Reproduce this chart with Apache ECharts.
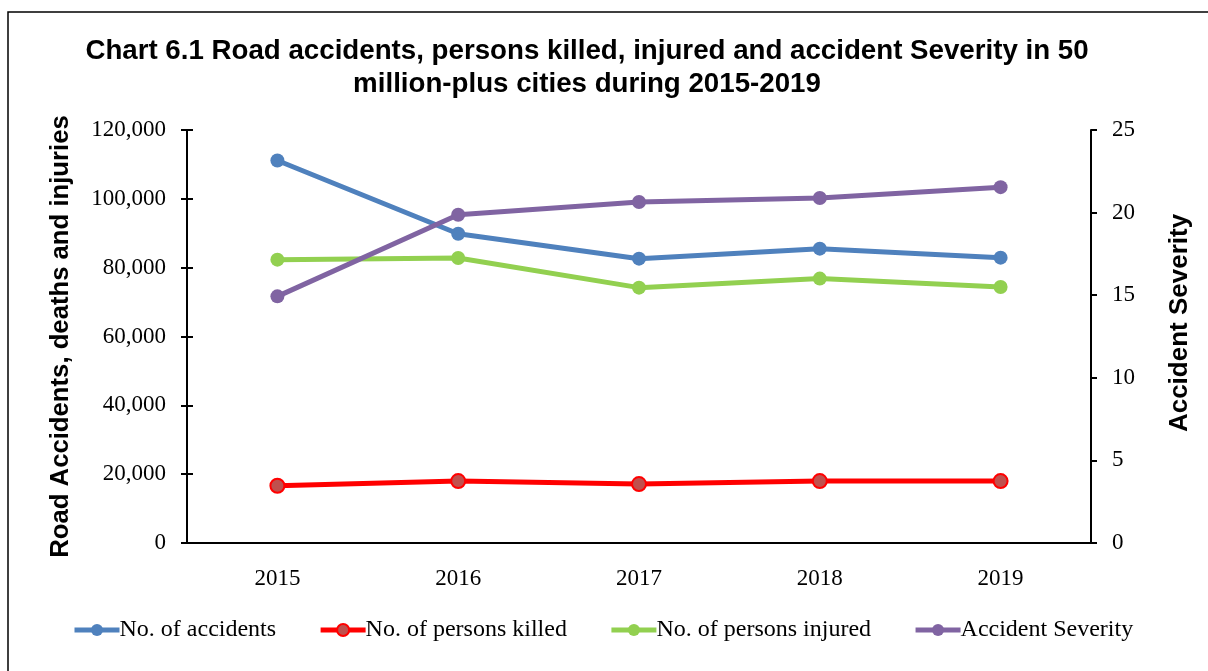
<!DOCTYPE html>
<html>
<head>
<meta charset="utf-8">
<script src="https://cdn.jsdelivr.net/npm/echarts@6/dist/echarts.min.js"></script>
<style>
  html, body { margin: 0; padding: 0; background: #fff; }
  #chart { width: 1208px; height: 671px; }
</style>
</head>
<body>
<div id="chart"></div>
<script>
const years = ["2015", "2016", "2017", "2018", "2019"];
const accidents = [111150, 89870, 82620, 85520, 82910];
const killed = [16630, 17990, 17120, 18000, 18000];
const injured = [82330, 82790, 74200, 76820, 74380];
const severity = [14.93, 19.87, 20.64, 20.88, 21.54];
const leftTicks = { min: 0, max: 120000, interval: 20000 };
const rightTicks = { min: 0, max: 25, interval: 5 };

const serif = "'Liberation Serif', 'Times New Roman', serif";
const sans = "'Liberation Sans', Arial, sans-serif";

// line + dot series in the Excel look
function lineSeries(name, data, color, yIdx, dotFill) {
  return {
    name: name,
    type: "line",
    data: data,
    yAxisIndex: yIdx,
    symbol: "circle",
    symbolSize: 14,
    lineStyle: { color: color, width: 5 },
    itemStyle: {
      color: dotFill || color,
      borderColor: color,
      borderWidth: dotFill ? 2 : 0
    },
    emphasis: { disabled: true }
  };
}

const chart = echarts.init(document.getElementById("chart"));
chart.setOption({
  animation: false,
  title: {
    text: "Chart 6.1 Road accidents, persons killed, injured and accident Severity in 50\nmillion-plus cities during 2015-2019",
    left: 582,
    top: 30,
    textAlign: "center",
    textStyle: {
      fontFamily: sans,
      fontWeight: "bold",
      fontSize: 27.7,
      lineHeight: 33,
      color: "#000"
    }
  },
  graphic: [{
    type: "rect",
    shape: { x: 8, y: 12, width: 1300, height: 800 },
    style: { fill: "none", stroke: "#000", lineWidth: 1.5 },
    silent: true
  }, {
    type: "text",
    x: 1180,
    y: 323,
    rotation: Math.PI / 2,
    style: {
      text: "Accident Severity",
      fontFamily: sans, fontWeight: "bold", fontSize: 26, fill: "#000",
      align: "center", verticalAlign: "middle"
    },
    silent: true
  }],
  legend: {
    bottom: 24,
    left: 67,
    itemWidth: 45,
    itemHeight: 15,
    itemGap: 42,
    lineStyle: { width: 5 },
    textStyle: { fontFamily: serif, fontSize: 24, color: "#000", padding: [0, 0, 0, -5] },
    data: ["No. of accidents", "No. of persons killed", "No. of persons injured", "Accident Severity"]
  },
  grid: { left: 187, right: 117, top: 130, bottom: 128 },
  xAxis: [{
    type: "category",
    data: years,
    boundaryGap: true,
    axisLine: { lineStyle: { color: "#000", width: 2 } },
    axisTick: { length: 6, lineStyle: { color: "#000", width: 2 } },
    axisLabel: { fontFamily: serif, fontSize: 23, color: "#000", margin: 24 }
  }, {
    type: "category",
    data: years,
    position: "bottom",
    boundaryGap: true,
    axisLine: { show: false },
    axisTick: { inside: true, length: 6, lineStyle: { color: "#000", width: 2 } },
    axisLabel: { show: false }
  }],
  yAxis: [{
    type: "value",
    min: leftTicks.min, max: leftTicks.max, interval: leftTicks.interval,
    position: "left",
    name: "Road Accidents, deaths and injuries",
    nameLocation: "middle",
    nameGap: 113,
    nameTextStyle: { fontFamily: sans, fontWeight: "bold", fontSize: 25.7, color: "#000" },
    axisLine: { show: true, lineStyle: { color: "#000", width: 2 } },
    axisTick: { show: true, length: 6, lineStyle: { color: "#000", width: 2 } },
    splitLine: { show: false },
    axisLabel: {
      fontFamily: serif, fontSize: 23, color: "#000", margin: 21,
      formatter: v => v.toLocaleString("en-US")
    }
  }, {
    type: "value",
    min: rightTicks.min, max: rightTicks.max, interval: rightTicks.interval,
    position: "right",
    axisLine: { show: true, lineStyle: { color: "#000", width: 2 } },
    axisTick: { show: true, length: 6, lineStyle: { color: "#000", width: 2 } },
    splitLine: { show: false },
    axisLabel: { fontFamily: serif, fontSize: 23, color: "#000", margin: 21 }
  }, {
    type: "value",
    min: leftTicks.min, max: leftTicks.max, interval: leftTicks.interval,
    position: "left",
    axisLine: { show: false },
    axisTick: { show: true, inside: true, length: 6, lineStyle: { color: "#000", width: 2 } },
    splitLine: { show: false },
    axisLabel: { show: false }
  }],
  series: [
    lineSeries("No. of accidents", accidents, "#4f81bd", 0),
    lineSeries("No. of persons killed", killed, "#ff0000", 0, "#c0504d"),
    lineSeries("No. of persons injured", injured, "#92d050", 0),
    lineSeries("Accident Severity", severity, "#8064a2", 1)
  ]
});
</script>
</body>
</html>
